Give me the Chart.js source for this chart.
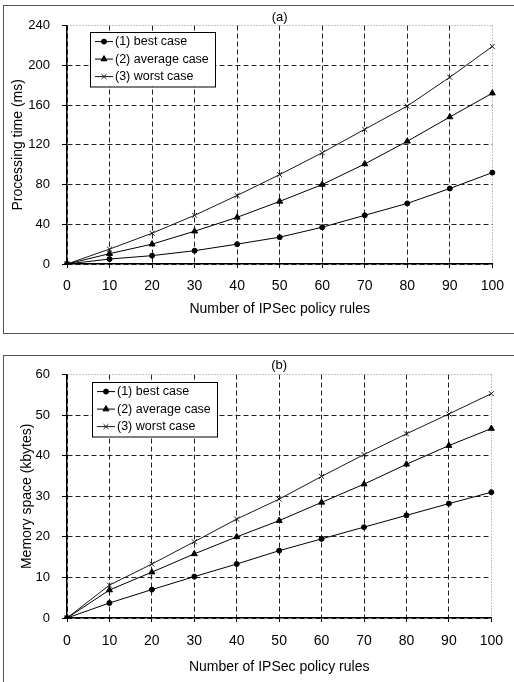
<!DOCTYPE html>
<html>
<head>
<meta charset="utf-8">
<script src="https://cdn.jsdelivr.net/npm/chart.js@4.4.0/dist/chart.umd.min.js"></script>
<style>
  body { margin: 0; background: #fff; width: 514px; height: 682px; overflow: hidden; position: relative; }
  .frame { position: absolute; border: 1px solid #555; box-sizing: border-box; }
  .wrap { position: absolute; left: 0; width: 514px; }
</style>
</head>
<body>
<div class="frame" style="left:3px; top:5px; width:530px; height:329px;"></div>
<div class="frame" style="left:3px; top:355px; width:530px; height:340px;"></div>
<div class="wrap" style="top:0; height:335px;"><canvas id="chartA"></canvas></div>
<div class="wrap" style="top:335px; height:347px;"><canvas id="chartB"></canvas></div>
<script>
const rules = ['0', '10', '20', '30', '40', '50', '60', '70', '80', '90', '100'];
const seriesNames = ['(1) best case', '(2) average case', '(3) worst case'];

// (a) processing time, ms
const timeBest = [0, 5, 8.4, 13.4, 20, 27, 37, 49, 61, 76, 92];
const timeAverage = [0, 10.4, 20, 33, 47, 63, 80, 100.7, 123.5, 148, 172];
const timeWorst = [0, 15, 31, 49, 69, 90, 112, 135.6, 159, 188, 219];

// (b) memory space, kbytes
const memBest = [0, 3.7, 7, 10.2, 13.3, 16.6, 19.5, 22.4, 25.3, 28.2, 31];
const memAverage = [0, 6.9, 11.3, 15.8, 20, 24, 28.5, 33, 37.9, 42.5, 46.7];
const memWorst = [0, 8.1, 13.3, 18.8, 24.4, 29.3, 34.9, 40.3, 45.4, 50.3, 55.3];

const FONT = '"Liberation Sans", Arial, sans-serif';

// legend box drawn inside the plot, like the original figure
const insideLegend = {
    id: 'insideLegend',
    afterDatasetsDraw(chart, args, opts) {
        const ctx = chart.ctx;
        const area = chart.chartArea;
        const x = area.left + opts.dx;
        const y = area.top + opts.dy;
        const rowH = 17.5;
        const h = rowH * chart.data.datasets.length + 2;
        ctx.save();
        ctx.fillStyle = '#fff';
        ctx.fillRect(x, y, opts.width, h);
        ctx.strokeStyle = '#000';
        ctx.lineWidth = 1;
        ctx.strokeRect(Math.round(x) + 0.5, Math.round(y) + 0.5, opts.width, h);
        ctx.font = '12.5px ' + FONT;
        chart.data.datasets.forEach((ds, i) => {
            const cy = y + 10 + i * rowH;
            ctx.strokeStyle = ds.borderColor;
            ctx.beginPath();
            ctx.moveTo(x + 5, cy);
            ctx.lineTo(x + 23, cy);
            ctx.stroke();
            ctx.fillStyle = ds.pointBackgroundColor;
            ctx.strokeStyle = ds.pointBorderColor;
            Chart.helpers.drawPoint(ctx, { pointStyle: ds.pointStyle, radius: ds.pointRadius, borderWidth: 1, rotation: 0 }, x + 14, cy);
            ctx.fillStyle = '#000';
            ctx.textBaseline = 'middle';
            ctx.fillText(ds.label, x + 25, cy);
        });
        ctx.restore();
    }
};

function makeDataset(label, data, style, radius, color) {
    return {
        label: label,
        data: data,
        borderColor: color,
        borderWidth: 1,
        pointStyle: style,
        pointRadius: radius,
        pointBackgroundColor: color,
        pointBorderColor: color,
        pointBorderWidth: 1,
        fill: false,
        tension: 0
    };
}

function buildChart(id, opt) {
    const ctx = document.getElementById(id).getContext('2d');
    return new Chart(ctx, {
        type: 'line',
        data: {
            labels: rules,
            datasets: [
                makeDataset(seriesNames[0], opt.best, 'circle', 2.5, '#000'),
                makeDataset(seriesNames[1], opt.average, 'triangle', 3.5, '#000'),
                makeDataset(seriesNames[2], opt.worst, 'crossRot', 3.5, '#1a1a1a')
            ]
        },
        options: {
            responsive: true,
            maintainAspectRatio: false,
            animation: false,
            layout: { padding: { left: 0, right: 21, top: 0, bottom: 0 } },
            plugins: {
                legend: { display: false },
                tooltip: { enabled: false },
                title: {
                    display: true,
                    text: opt.title,
                    fullSize: false,
                    color: '#000',
                    font: { family: FONT, size: 13, weight: 'normal' },
                    padding: opt.titlePad
                },
                insideLegend: opt.legend
            },
            scales: {
                x: {
                    offset: false,
                    grid: {
                        color: c => c.index === rules.length - 1 ? '#888' : '#222',
                        lineWidth: 1,
                        drawTicks: true,
                        tickLength: 4,
                        tickColor: '#000'
                    },
                    border: {
                        display: true,
                        color: '#000',
                        width: 1.5,
                        dash: c => c.index === rules.length - 1 ? [1, 2] : [5, 3]
                    },
                    ticks: {
                        color: '#000',
                        font: { family: FONT, size: 14 },
                        padding: opt.xTickPad,
                        maxRotation: 0,
                        autoSkip: false
                    },
                    title: {
                        display: true,
                        text: 'Number of IPSec policy rules',
                        color: '#000',
                        font: { family: FONT, size: 14 },
                        padding: { top: 0, bottom: opt.xTitlePad }
                    },
                    afterFit: s => { s.height = opt.xHeight; }
                },
                y: {
                    min: 0,
                    max: opt.yMax,
                    grid: {
                        color: c => c.tick && c.tick.value === opt.yMax ? '#888' : '#222',
                        lineWidth: 1,
                        drawTicks: true,
                        tickLength: 5,
                        tickColor: '#000'
                    },
                    border: {
                        display: true,
                        color: '#000',
                        width: 1.5,
                        dash: c => c.tick && c.tick.value === opt.yMax ? [1, 2] : [5, 3]
                    },
                    ticks: {
                        stepSize: opt.yStep,
                        color: '#000',
                        font: { family: FONT, size: 13 },
                        padding: 12
                    },
                    title: {
                        display: true,
                        text: opt.yTitle,
                        color: '#000',
                        font: { family: FONT, size: 14 },
                        padding: { top: opt.yTitlePad, bottom: 0 }
                    },
                    afterFit: s => { s.width = 67; }
                }
            }
        },
        plugins: [insideLegend]
    });
}

buildChart('chartA', {
    title: '(a)',
    titlePad: { top: 10, bottom: 0 },
    best: timeBest, average: timeAverage, worst: timeWorst,
    yMax: 240, yStep: 40,
    yTitle: 'Processing time (ms)',
    yTitlePad: 10,
    xHeight: 71, xTickPad: 10, xTitlePad: 17,
    legend: { dx: 23, dy: 6, width: 125 }
});

buildChart('chartB', {
    title: '(b)',
    titlePad: { top: 23, bottom: 1 },
    best: memBest, average: memAverage, worst: memWorst,
    yMax: 60, yStep: 10,
    yTitle: 'Memory space (kbytes)',
    yTitlePad: 19,
    xHeight: 64, xTickPad: 11, xTitlePad: 6,
    legend: { dx: 25, dy: 7, width: 125 }
});
</script>
</body>
</html>
